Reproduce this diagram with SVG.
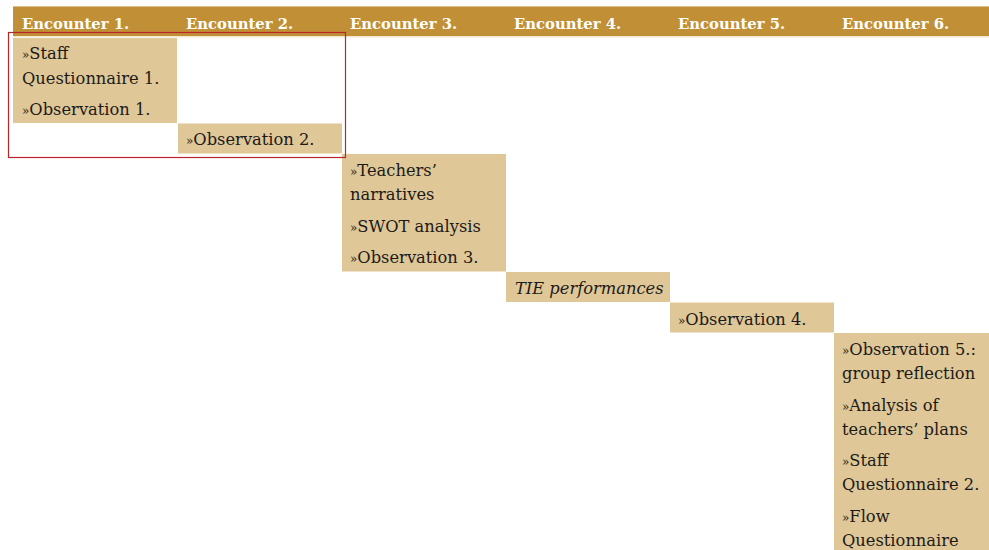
<svg xmlns="http://www.w3.org/2000/svg" width="989" height="550" viewBox="0 0 989 550">
<style>
.hd{font-family:"DejaVu Serif","Liberation Serif",serif;font-weight:bold;font-size:14.8px;fill:#ffffff}
.tx{font-family:"DejaVu Serif","Liberation Serif",serif;font-size:16.3px;fill:#1c1a17}
.g{font-size:12px}
.it{font-style:italic}
.cell{fill:#dfc798}
</style>
<rect x="0" y="0" width="989" height="550" fill="#ffffff"/>
<g id="header">
<rect x="13" y="6" width="976" height="31" fill="#c08f36"/>
<rect x="13" y="6" width="976" height="1" fill="#dcc08c"/>
<rect x="13" y="36" width="976" height="1.5" fill="#f3e7cf"/>
<text class="hd" x="22" y="29">Encounter 1.</text>
<text class="hd" x="186" y="29">Encounter 2.</text>
<text class="hd" x="350" y="29">Encounter 3.</text>
<text class="hd" x="514" y="29">Encounter 4.</text>
<text class="hd" x="678" y="29">Encounter 5.</text>
<text class="hd" x="842" y="29">Encounter 6.</text>
</g>
<g id="enc1">
<rect class="cell" x="13" y="38" width="164" height="85"/>
<text class="tx" x="22" y="59"><tspan class="g">»</tspan>Staff</text>
<text class="tx" x="22" y="84">Questionnaire 1.</text>
<text class="tx" x="22" y="115"><tspan class="g">»</tspan>Observation 1.</text>
</g>
<g id="enc2">
<rect class="cell" x="178" y="123.5" width="164" height="30"/>
<text class="tx" x="186" y="145"><tspan class="g">»</tspan>Observation 2.</text>
</g>
<g id="enc3">
<rect class="cell" x="342" y="154" width="164" height="117.5"/>
<text class="tx" x="350" y="176"><tspan class="g">»</tspan>Teachers’</text>
<text class="tx" x="350" y="200">narratives</text>
<text class="tx" x="350" y="232"><tspan class="g">»</tspan>SWOT analysis</text>
<text class="tx" x="350" y="263"><tspan class="g">»</tspan>Observation 3.</text>
</g>
<g id="enc4">
<rect class="cell" x="506" y="272" width="164" height="30"/>
<text class="tx it" x="515" y="294">TIE performances</text>
</g>
<g id="enc5">
<rect class="cell" x="670" y="302.5" width="164" height="30"/>
<text class="tx" x="678" y="325"><tspan class="g">»</tspan>Observation 4.</text>
</g>
<g id="enc6">
<rect class="cell" x="834" y="333" width="155" height="217"/>
<text class="tx" x="842" y="355"><tspan class="g">»</tspan>Observation 5.:</text>
<text class="tx" x="842" y="379">group reflection</text>
<text class="tx" x="842" y="411"><tspan class="g">»</tspan>Analysis of</text>
<text class="tx" x="842" y="435">teachers’ plans</text>
<text class="tx" x="842" y="466"><tspan class="g">»</tspan>Staff</text>
<text class="tx" x="842" y="490">Questionnaire 2.</text>
<text class="tx" x="842" y="522"><tspan class="g">»</tspan>Flow</text>
<text class="tx" x="842" y="546">Questionnaire</text>
</g>
<g id="highlight">
<rect x="8.5" y="32.5" width="337" height="125" fill="none" stroke="#b8262a" stroke-width="1.2"/>
</g>
</svg>
